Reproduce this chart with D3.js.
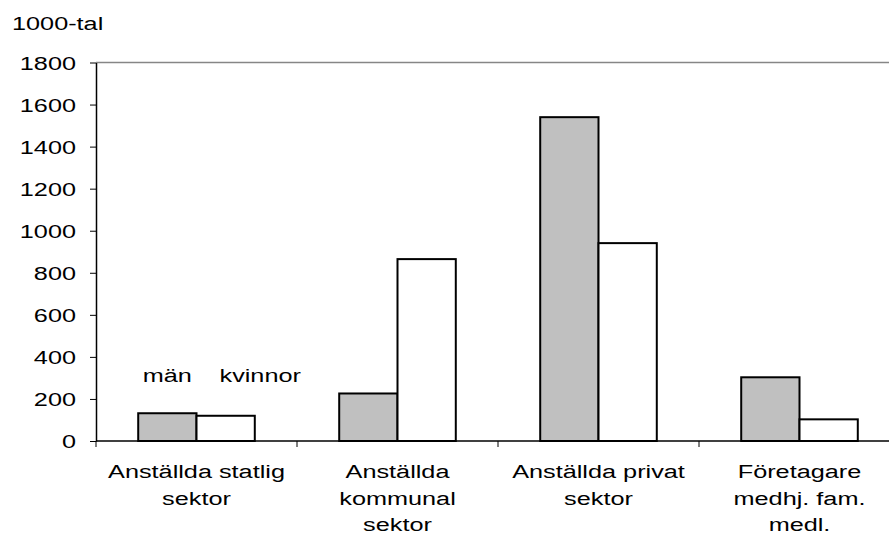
<!DOCTYPE html>
<html>
<head>
<meta charset="utf-8">
<script src="https://cdn.jsdelivr.net/npm/d3@7"></script>
<style>
  body { margin: 0; background: #fff; }
  text { font-family: "Liberation Sans", Arial, sans-serif; fill: #000; }
</style>
</head>
<body>
<div id="chart"></div>
<script>
// data
const categories = ["statlig", "kommunal", "privat", "foretagare"];
const categoryLabels = [
  ["Anställda statlig", "sektor"],
  ["Anställda", "kommunal", "sektor"],
  ["Anställda privat", "sektor"],
  ["Företagare", "medhj. fam.", "medl."]
];
const series = ["män", "kvinnor"];
const man = [132, 226, 1540, 303];
const kvinnor = [120, 865, 941, 103];
const yTicks = [0, 200, 400, 600, 800, 1000, 1200, 1400, 1600, 1800];

const width = 889, height = 542;
const margin = {top: 62.5, left: 96, bottom: 101};
const plotRight = 900; // axis runs past the right edge of the picture
const sx = 1.33;       // text in the original is stretched horizontally
const fontSize = 19;

const svg = d3.select("#chart")
  .append("svg")
  .attr("width", width)
  .attr("height", height);

// scales
const x = d3.scaleBand()
  .domain(categories)
  .range([margin.left, plotRight])
  .paddingInner(0.42)
  .paddingOuter(0.21);

const xSub = d3.scaleBand()
  .domain(series)
  .range([0, x.bandwidth()]);

const y = d3.scaleLinear()
  .domain([0, 1800])
  .range([height - margin.bottom, margin.top]);

const y0 = y(0);

// stretched text helper
function sText(g, tx, ty, str, anchor) {
  return g.append("text")
    .attr("transform", `translate(${tx},${ty}) scale(${sx},1)`)
    .attr("text-anchor", anchor || "start")
    .style("font-size", fontSize + "px")
    .text(str);
}

// top gridline at 1800
svg.append("line")
  .attr("x1", margin.left).attr("x2", width)
  .attr("y1", y(1800)).attr("y2", y(1800))
  .attr("stroke", "#868686")
  .attr("stroke-width", 1.5);

// bars
const rows = categories.map((c, i) => ({cat: c, values: [man[i], kvinnor[i]]}));
const groups = svg.append("g").selectAll("g")
  .data(rows)
  .join("g")
  .attr("transform", d => `translate(${x(d.cat)},0)`);

groups.selectAll("rect")
  .data(d => d.values.map((v, j) => ({key: series[j], value: v})))
  .join("rect")
  .attr("x", d => xSub(d.key))
  .attr("y", d => y(d.value))
  .attr("width", xSub.bandwidth())
  .attr("height", d => y0 - y(d.value))
  .attr("fill", d => d.key === "män" ? "#c0c0c0" : "#ffffff")
  .attr("stroke", "#000")
  .attr("stroke-width", 2);

// y axis
const yAxis = svg.append("g")
  .attr("transform", `translate(${margin.left},0)`)
  .call(d3.axisLeft(y).tickValues(yTicks).tickFormat(d3.format("d")).tickSize(6).tickSizeOuter(0));
yAxis.select(".domain").attr("stroke", "#000").attr("stroke-width", 1.5);
yAxis.selectAll(".tick line").attr("stroke", "#000").attr("stroke-width", 1);
yAxis.selectAll(".tick text")
  .attr("x", null)
  .attr("transform", `translate(-20,0) scale(${sx},1)`)
  .attr("text-anchor", "end")
  .attr("dy", "0.36em")
  .style("font-size", fontSize + "px")
  .style("font-family", "Liberation Sans, Arial, sans-serif");

// x axis line
svg.append("line")
  .attr("x1", margin.left).attr("x2", width)
  .attr("y1", y0).attr("y2", y0)
  .attr("stroke", "#000")
  .attr("stroke-width", 1.5);

// category boundary ticks (left edge of each category)
const bounds = categories.map((c, i) => margin.left + i * x.step());
svg.append("g").selectAll("line")
  .data(bounds)
  .join("line")
  .attr("x1", d => d).attr("x2", d => d)
  .attr("y1", y0).attr("y2", y0 + 6)
  .attr("stroke", "#000")
  .attr("stroke-width", 1);

// category labels
categoryLabels.forEach((lines, i) => {
  const cx = x(categories[i]) + x.bandwidth() / 2;
  lines.forEach((ln, k) => {
    sText(svg, cx, 478 + k * 26.5, ln, "middle");
  });
});

// unit label
sText(svg, 12, 30, "1000-tal");

// series annotations
sText(svg, x(categories[0]) + xSub("män") + xSub.bandwidth() / 2, 382, "män", "middle");
sText(svg, x(categories[0]) + xSub("kvinnor") + 23, 382, "kvinnor", "start");
</script>
</body>
</html>
